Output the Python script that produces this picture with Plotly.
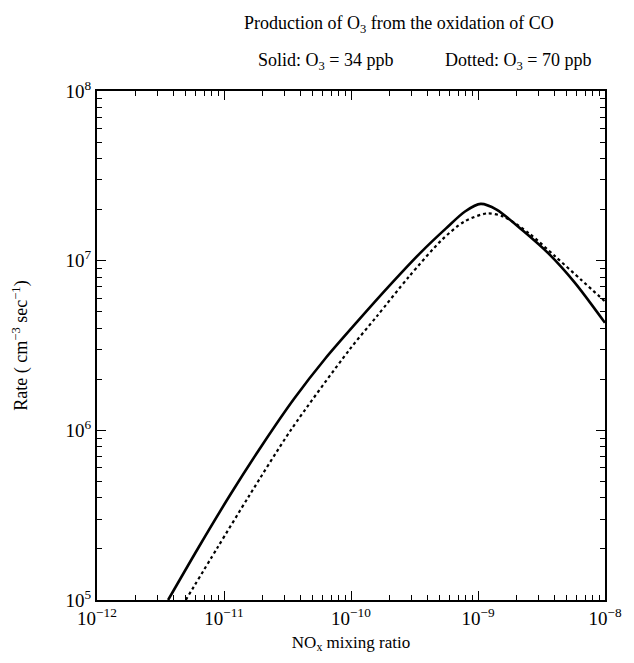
"""Production of O3 from CO oxidation vs NOx mixing ratio (log-log)."""
import plotly.graph_objects as go

# Solid curve: O3 = 34 ppb
solid_nox = [3.63e-12, 6.3e-12, 1.12e-11, 2.0e-11, 3.55e-11, 6.3e-11, 1.12e-10,
             2.0e-10, 3.55e-10, 5.6e-10, 7.9e-10, 1.05e-9, 1.4e-9, 2.24e-9,
             3.6e-9, 5.8e-9, 1.0e-8]
solid_rate = [1.0e5, 2.04e5, 4.17e5, 8.2e5, 1.53e6, 2.66e6, 4.37e6,
              7.1e6, 1.12e7, 1.55e7, 1.95e7, 2.16e7, 2.0e7, 1.51e7,
              1.1e7, 7.4e6, 4.3e6]

# Dotted curve: O3 = 70 ppb
dotted_nox = [5.0e-12, 8.9e-12, 1.58e-11, 3.35e-11, 9.7e-11, 1.59e-10,
              2.86e-10, 5.16e-10, 7.8e-10, 1.18e-9, 1.58e-9, 2.52e-9,
              4.05e-9, 6.5e-9, 1.0e-8]
dotted_rate = [1.0e5, 2.04e5, 4.12e5, 1.0e6, 2.98e6, 4.68e6,
               8.05e6, 1.32e7, 1.7e7, 1.9e7, 1.82e7, 1.45e7,
               1.06e7, 7.7e6, 5.75e6]

x_exps = [-12, -11, -10, -9, -8]
y_exps = [5, 6, 7, 8]

FONT = "Liberation Serif"


def minor_vals(exps):
    return [m * 10.0 ** e for e in exps[:-1] for m in range(2, 10)]


def pow_labels(exps):
    return [f"10<sup>{'−' if e < 0 else ''}{abs(e)}</sup>" for e in exps]


fig = go.Figure()
fig.add_trace(go.Scatter(
    x=solid_nox, y=solid_rate, mode="lines",
    line=dict(color="black", width=2.6, shape="spline", smoothing=0.8),
    name="O3 = 34 ppb",
))
fig.add_trace(go.Scatter(
    x=dotted_nox, y=dotted_rate, mode="lines",
    line=dict(color="black", width=2.2, dash="dot", shape="spline", smoothing=0.8),
    name="O3 = 70 ppb",
))

axis_common = dict(
    type="log", showgrid=False, zeroline=False,
    showline=True, linecolor="black", linewidth=2, mirror="allticks",
    ticks="inside", ticklen=9, tickwidth=1.3, tickcolor="black",
    tickfont=dict(family=FONT, size=19, color="black"),
)

fig.update_xaxes(
    **axis_common,
    range=[-12, -8],
    tickvals=[10.0 ** e for e in x_exps], ticktext=pow_labels(x_exps),
    minor=dict(tickvals=minor_vals(x_exps), ticks="inside", ticklen=5,
               tickwidth=1.2, tickcolor="black"),
    title=dict(text="NO<sub>x</sub> mixing ratio", standoff=8,
               font=dict(family=FONT, size=17, color="black")),
)
fig.update_yaxes(
    **axis_common,
    range=[5, 8],
    tickvals=[10.0 ** e for e in y_exps], ticktext=pow_labels(y_exps),
    minor=dict(tickvals=minor_vals(y_exps), ticks="inside", ticklen=5,
               tickwidth=1.2, tickcolor="black"),
    title=dict(text="Rate ( cm<sup>−3</sup> sec<sup>−1</sup>)", standoff=33,
               font=dict(family=FONT, size=18, color="black")),
)

title_font = dict(family=FONT, size=18, color="black")
fig.add_annotation(text="Production of O<sub>3</sub> from the oxidation of CO",
                   xref="paper", yref="paper", x=0.595, y=1.13,
                   xanchor="center", yanchor="middle",
                   showarrow=False, font=title_font)
fig.add_annotation(text="Solid: O<sub>3</sub> = 34 ppb",
                   xref="paper", yref="paper", x=0.45, y=1.057,
                   xanchor="center", yanchor="middle",
                   showarrow=False, font=title_font)
fig.add_annotation(text="Dotted: O<sub>3</sub> = 70 ppb",
                   xref="paper", yref="paper", x=0.828, y=1.057,
                   xanchor="center", yanchor="middle",
                   showarrow=False, font=title_font)

# page body has an 8px margin, so the figure is sized to fit the window
fig.update_layout(
    width=626, height=655,
    margin=dict(l=88, r=18, t=83, b=63),
    paper_bgcolor="white", plot_bgcolor="white",
    showlegend=False,
    font=dict(family=FONT, color="black"),
)

fig.write_html("out.html")
